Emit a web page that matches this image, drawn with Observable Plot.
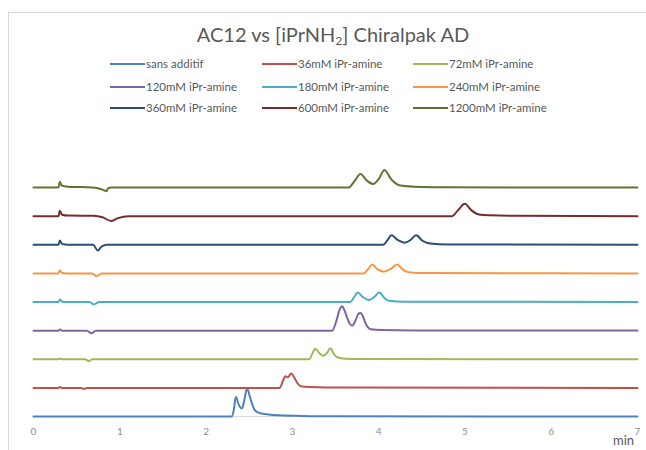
<!DOCTYPE html>
<html><head><meta charset="utf-8">
<script src="https://cdn.jsdelivr.net/npm/d3@7"></script>
<script src="https://cdn.jsdelivr.net/npm/@observablehq/plot@0.6"></script>
<style>
body{margin:0;background:#fff;}
#wrap{position:relative;width:646px;height:450px;overflow:hidden;font-family:Lato,"Open Sans",sans-serif;}
#frame{position:absolute;left:8px;top:12px;width:700px;height:500px;border:1px solid #d9d9d9;}
#title{position:absolute;left:10px;width:646px;top:22px;text-align:center;font-size:20px;color:#595959;}
#title sub{font-size:12px;vertical-align:-3px;line-height:0;}
.leg{position:absolute;font-size:11.5px;color:#595959;white-space:nowrap;line-height:14px;}
.leg .sw{position:absolute;left:0;top:6px;width:35px;height:2px;}
.leg .tx{position:absolute;left:36px;top:0;}
#chart{position:absolute;left:0;top:0;}
#unit{position:absolute;left:613px;top:432px;font-size:13px;color:#595959;}
</style></head>
<body><div id="wrap"><div id="frame"></div><div id="title">AC12 vs [iPrNH<sub>2</sub>] Chiralpak AD</div><div id="chart"></div><div id="unit">min</div></div>
<script>
const seriesNames = ["sans additif","36mM iPr-amine","72mM iPr-amine","120mM iPr-amine","180mM iPr-amine","240mM iPr-amine","360mM iPr-amine","600mM iPr-amine","1200mM iPr-amine"];
const colors = ["#4f81bd","#c0504d","#9bbb59","#8064a2","#4bacc6","#f79646","#2c4d75","#772c2a","#5f7530"];
const offsets = [0,100,200,300,400,500,600,700,800];
const xTicks = [0,1,2,3,4,5,6,7];

// [time (min), signal]
const sansAdditif = [[0,0],[1,0],[2.30,0],[2.325,30],[2.337,58],[2.347,68],[2.357,62],[2.37,48],[2.416,28],[2.445,60],[2.465,90],[2.476,96],[2.488,90],[2.505,72],[2.538,40],[2.57,20],[2.62,12],[2.7,8],[2.85,4],[3.1,2],[3.5,0.5],[7,0]];
const mM36 = [[0,0],[0.29,0],[0.305,3],[0.33,0],[0.55,0],[0.583,-4],[0.62,0],[2.854,0],[2.886,21],[2.92,41],[2.947,37],[2.986,50],[3.024,35],[3.056,18],[3.094,6],[3.21,3],[3.56,1],[7,0]];
const mM72 = [[0,0],[0.29,0],[0.305,3],[0.33,0],[0.6,0],[0.64,-7],[0.68,0],[3.198,0],[3.227,17],[3.268,37],[3.31,22],[3.357,12],[3.40,22],[3.441,38],[3.482,18],[3.519,7],[3.615,2],[3.8,0.5],[7,0]];
const mM120 = [[0,0],[0.29,0],[0.305,4],[0.33,0],[0.62,0],[0.672,-9],[0.72,0],[3.461,0],[3.511,35],[3.546,72],[3.577,85],[3.605,70],[3.635,45],[3.665,24],[3.693,17],[3.731,35],[3.765,58],[3.789,62],[3.815,52],[3.845,28],[3.870,14],[3.905,5],[4.05,2],[4.4,0.5],[7,0]];
const mM180 = [[0,0],[0.29,0],[0.305,9],[0.33,2],[0.38,0],[0.65,0],[0.70,-9],[0.76,0],[3.673,0],[3.714,16],[3.758,33],[3.818,17],[3.885,7],[3.946,17],[4.009,33],[4.067,14],[4.117,4],[4.3,1],[7,0]];
const mM240 = [[0,0],[0.29,0],[0.305,11],[0.33,2],[0.38,0],[0.68,0],[0.73,-10],[0.79,0],[3.827,0],[3.876,14],[3.925,31],[3.986,15],[4.059,6],[4.137,15],[4.214,31],[4.276,14],[4.349,4],[4.55,1],[7,0]];
const mM360 = [[0,0],[0.29,0],[0.305,15],[0.33,3],[0.40,0],[0.69,0],[0.745,-20],[0.79,-6],[0.85,0],[4.052,0],[4.10,15],[4.148,33],[4.224,16],[4.299,7],[4.368,16],[4.435,33],[4.508,14],[4.6,4],[4.8,1],[7,0]];
const mM600 = [[0,0],[0.29,0],[0.305,19],[0.33,5],[0.40,2],[0.7,1],[0.80,-4],[0.90,-17],[0.97,-8],[1.1,0],[4.851,0],[4.918,20],[4.998,43],[5.076,20],[5.16,6],[5.296,3],[5.6,1],[7,0]];
const mM1200 = [[0,0],[0.29,0],[0.305,20],[0.33,6],[0.40,3],[0.68,0],[0.78,-5],[0.846,-13],[0.865,-2],[0.9,0],[3.654,0],[3.72,22],[3.789,47],[3.864,24],[3.936,12],[3.998,28],[4.067,61],[4.148,28],[4.253,7],[4.484,2],[4.8,0.5],[7,0]];

const traces = [sansAdditif,mM36,mM72,mM120,mM180,mM240,mM360,mM600,mM1200];
const data = traces.flatMap((pts,i)=>pts.map(([t,v])=>({t, y: v + offsets[i], s: seriesNames[i]})));

const chart = Plot.plot({
  width:646, height:450,
  marginLeft:33, marginRight:9, marginTop:187, marginBottom:34,
  style:{background:"transparent", fontFamily:"Lato, 'Open Sans', sans-serif"},
  x:{domain:[0,7]},
  y:{domain:[0,800], axis:null},
  color:{domain:seriesNames, range:colors},
  marks:[
    Plot.ruleY([0],{stroke:"#d9d9d9", strokeWidth:1}),
    Plot.line(data,{x:"t", y:"y", z:"s", stroke:"s", strokeWidth:2, curve:"monotone-x"}),
    Plot.axisX({ticks:xTicks, tickFormat:"d", tickSize:0, tickPadding:11, label:null, fontSize:10, fill:"#8c8c8c"})
  ]
});
document.getElementById("chart").appendChild(chart);

// legend
const legX = [110, 262, 413];
const legY = [57, 80, 101];
const wrap = document.getElementById("wrap");
seriesNames.forEach((n,i)=>{
  const d = document.createElement("div");
  d.className = "leg";
  d.style.left = legX[i%3] + "px";
  d.style.top = legY[Math.floor(i/3)] + "px";
  d.innerHTML = `<span class="sw" style="background:${colors[i]}"></span><span class="tx">${n}</span>`;
  wrap.appendChild(d);
});
</script></body></html>
